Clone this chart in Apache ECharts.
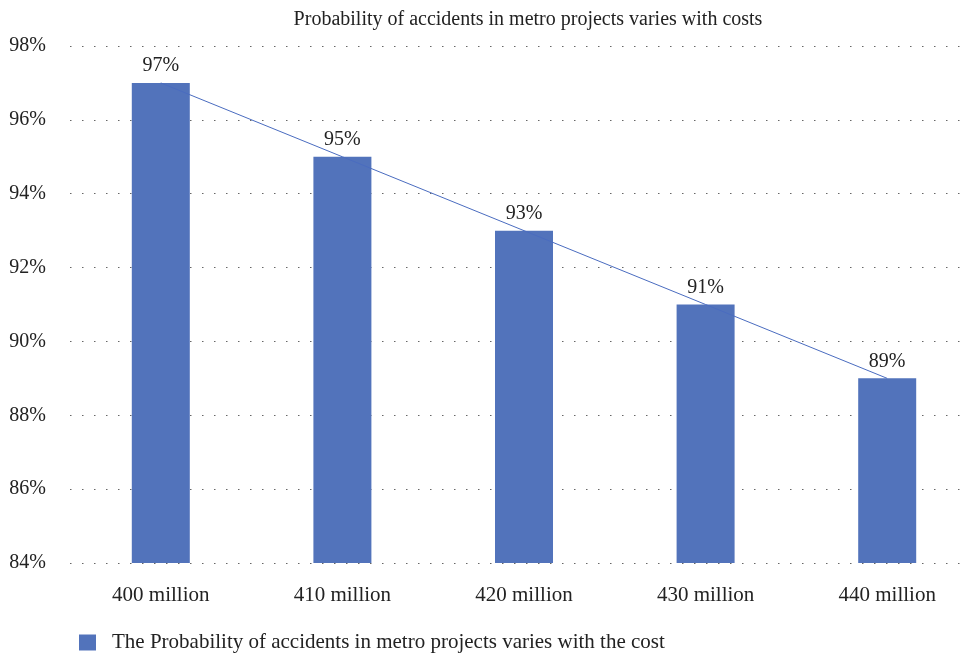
<!DOCTYPE html>
<html><head><meta charset="utf-8">
<script src="https://cdn.jsdelivr.net/npm/echarts@6/dist/echarts.min.js"></script>
<style>html,body{margin:0;padding:0;background:#fff}#c{width:966px;height:656px}</style>
</head><body><div id="c"></div>
<script>
const categories = ['400 million','410 million','420 million','430 million','440 million'];
const probability = [97, 95, 93, 91, 89];
const yTicks = [84, 86, 88, 90, 92, 94, 96, 98];
const seriesName = 'The Probability of accidents in metro projects varies with the cost';
const font = '"Liberation Serif", "DejaVu Serif", serif';
const chart = echarts.init(document.getElementById('c'));
chart.setOption({
  animation: false,
  backgroundColor: '#fff',
  title: { text: 'Probability of accidents in metro projects varies with costs', left: 523, textAlign: 'center', top: 5,
    textStyle: { fontFamily: font, fontSize: 20, fontWeight: 'normal', color: '#222' } },
  legend: { data: [{ name: seriesName, icon: 'rect' }], left: 79, top: 632, padding: 0, itemWidth: 17, itemHeight: 16, itemGap: 14,
    textStyle: { fontFamily: font, fontSize: 21, color: '#222', padding: [2, 0, 0, 11] } },
  grid: { left: 70, right: -12, top: 46, bottom: 93, containLabel: false, outerBoundsMode: 'none' },
  xAxis: { type: 'category', data: categories,
    axisLine: { show: false }, axisTick: { show: false },
    axisLabel: { fontFamily: font, fontSize: 21, color: '#222', margin: 22 } },
  yAxis: { type: 'value', min: yTicks[0], max: yTicks[yTicks.length-1], interval: 2,
    axisLine: { show: false }, axisTick: { show: false },
    axisLabel: { fontFamily: font, fontSize: 20, color: '#222', margin: 24, formatter: v => v + '%' },
    splitLine: { show: true, lineStyle: { color: '#666', width: 1, type: [1.5, 10.5] } } },
  series: [
    { name: seriesName, type: 'bar', data: probability, barWidth: 58, itemStyle: { color: '#5273BB' },
      label: { show: true, position: 'top', distance: 7, formatter: p => p.value + '%', fontFamily: font, fontSize: 20, color: '#222' }, z: 2 },
    { name: 'trend', type: 'line', data: probability, symbol: 'none', lineStyle: { color: '#4A6CC0', width: 1 }, z: 3, silent: true }
  ]
});
</script></body></html>
